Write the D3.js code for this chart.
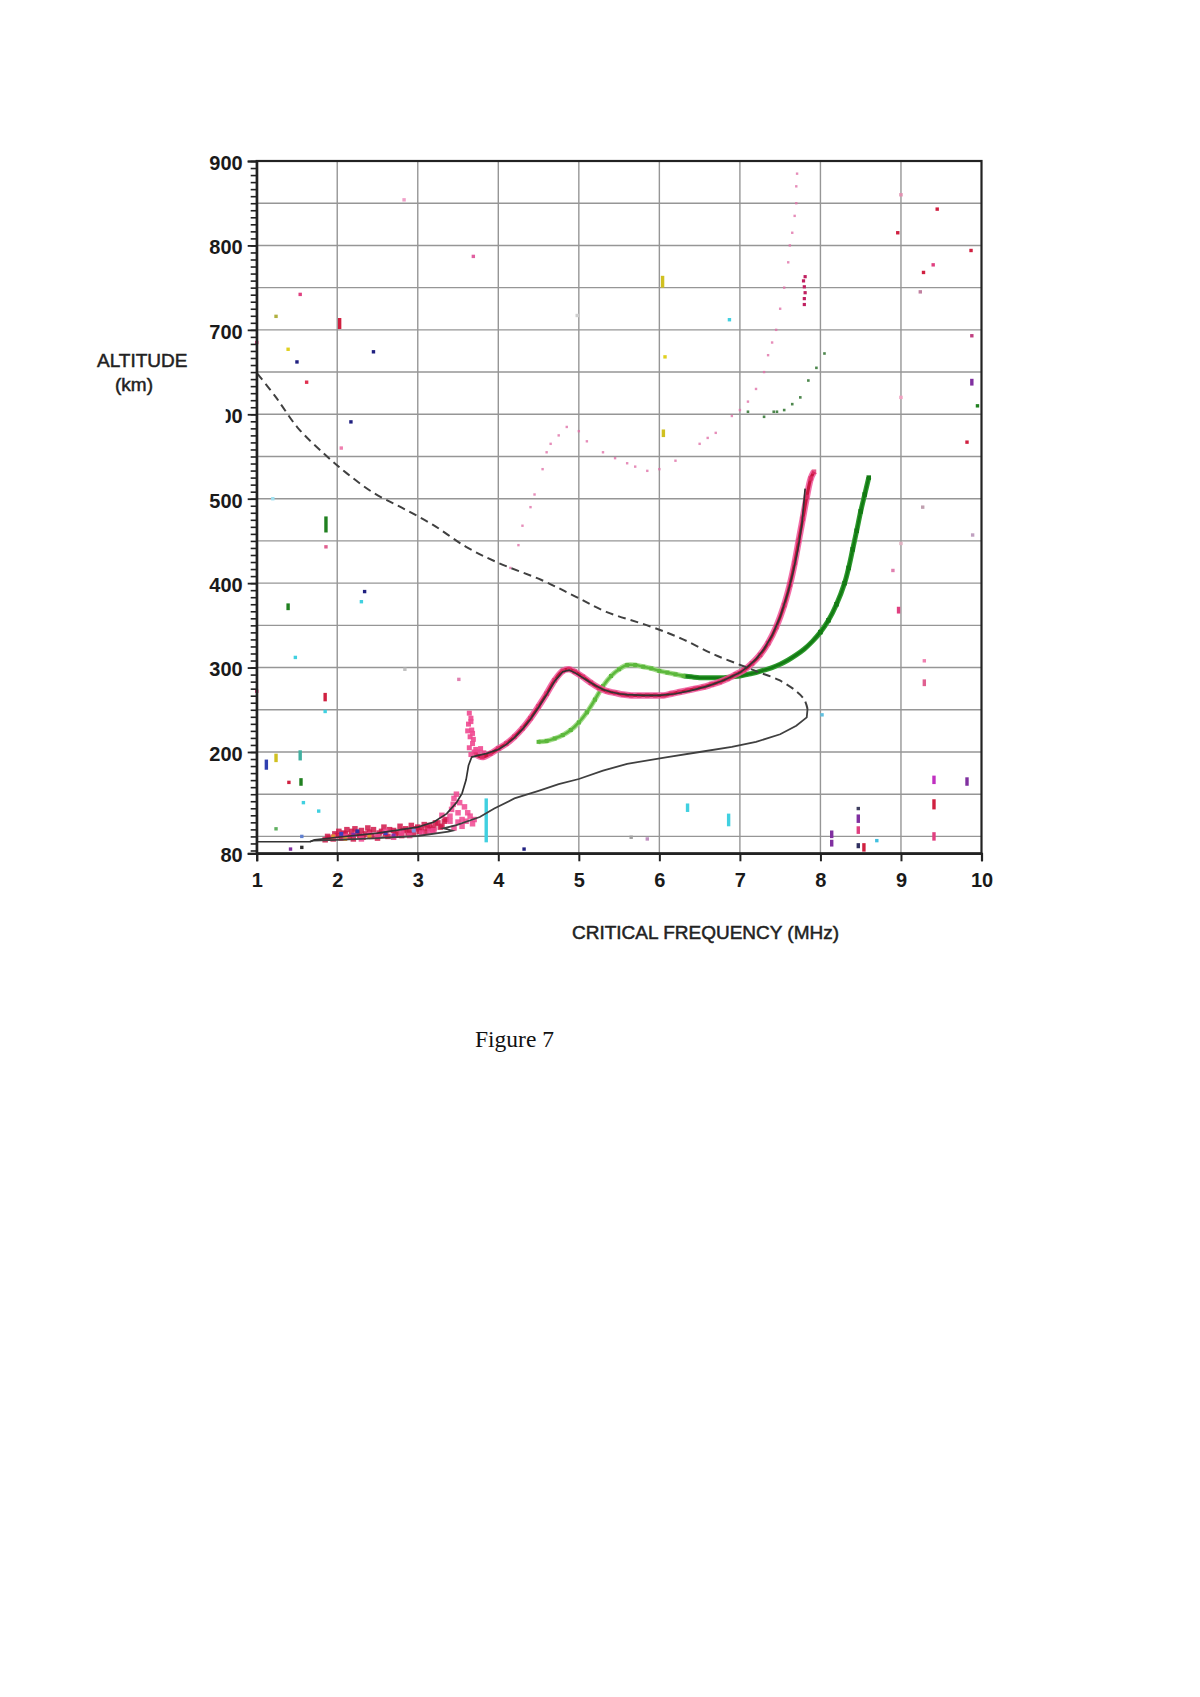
<!DOCTYPE html>
<html><head><meta charset="utf-8">
<script src="https://cdn.jsdelivr.net/npm/d3@7"></script>
<style>body{margin:0;background:#fff}</style>
</head><body>
<svg id="c" width="1200" height="1697" xmlns="http://www.w3.org/2000/svg"></svg>
<script>
// ---------- data ----------
const xTickValues = [1,2,3,4,5,6,7,8,9,10];
const yTickLabels = [80,200,300,400,500,600,700,800,900];
const yGridValues = [100,150,200,250,300,350,400,450,500,550,600,650,700,750,800,850];
const xGridValues = [2,3,4,5,6,7,8,9];

// dashed model profile (freq MHz, altitude km)
const dashedProfile = [[1.01,648],[1.24,620],[1.51,584],[1.85,552],[2.12,530],[2.45,507],[2.79,490],[3.19,469],[3.6,443],[4.0,424],[4.53,404],[4.94,385],[5.34,366],[5.88,349],[6.28,334],[6.69,315],[7.09,300],[7.22,295],[7.49,285],[7.7,272],[7.8,262],[7.84,251]];
// solid return branch of the model profile
const returnProfile = [[7.84,251],[7.83,241],[7.7,231],[7.5,221],[7.2,212],[6.9,206],[6.5,200],[6.1,194],[5.6,186],[5.3,178],[5.0,168],[4.75,162],[4.5,154],[4.2,145],[3.95,133],[3.77,123],[3.48,113.5],[3.32,109.6],[3.43,106.8],[3.38,105.6],[3.0,100.5],[2.5,98],[2.0,96],[1.7,95],[1.66,93.7]];
// solid fitted trace
const fitProfile = [[1.0,93.7],[1.66,93.7],[1.72,96],[2.0,99],[2.5,104],[3.0,111],[3.2,117],[3.36,127],[3.48,140],[3.55,151],[3.6,167],[3.63,184],[3.67,194],[3.75,196],[3.85,198],[4.0,203],[4.1,209],[4.2,217],[4.3,227],[4.4,239],[4.5,253],[4.6,268],[4.7,284],[4.8,295],[4.88,297],[4.95,294],[5.1,285],[5.2,279],[5.3,274],[5.4,271],[5.5,269],[5.6,268],[5.8,267],[6.0,267],[6.2,269],[6.4,273],[6.6,278],[6.8,285],[7.0,294],[7.1,301],[7.2,310],[7.3,322],[7.4,338],[7.5,360],[7.6,390],[7.66,413],[7.72,440],[7.77,470],[7.81,512]];

// red / pink echo trace
const redTrace = [[3.72,197],[3.8,194],[3.9,198],[4.0,204],[4.1,210],[4.2,218],[4.3,228],[4.4,240],[4.5,254],[4.6,269],[4.7,285],[4.8,296],[4.88,298],[4.95,295],[5.05,289],[5.15,282],[5.25,276],[5.35,272],[5.45,270],[5.55,268],[5.65,267],[5.75,267],[5.85,267],[5.95,267],[6.05,267],[6.15,269],[6.25,271],[6.35,273],[6.45,275],[6.55,277],[6.65,280],[6.75,283],[6.85,287],[6.95,292],[7.05,297],[7.15,305],[7.25,315],[7.35,329],[7.45,348],[7.55,374],[7.62,398],[7.68,424],[7.73,450],[7.78,476],[7.83,502],[7.88,524],[7.92,532]];
// green echo trace (light part, dark part)
const greenLight = [[4.5,212],[4.6,213],[4.7,216],[4.8,220],[4.9,226],[5.0,235],[5.1,247],[5.2,262],[5.3,278],[5.4,290],[5.5,298],[5.6,303],[5.7,303],[5.8,301],[5.9,299],[6.0,296],[6.1,294],[6.2,292],[6.3,290]];
const greenDark = [[6.3,290],[6.4,289],[6.5,288],[6.6,288],[6.7,288],[6.8,288],[6.9,289],[7.0,290],[7.1,292],[7.2,294],[7.3,297],[7.4,300],[7.5,304],[7.6,309],[7.7,315],[7.8,322],[7.9,331],[8.0,342],[8.1,356],[8.2,375],[8.3,400],[8.35,418],[8.4,440],[8.45,462],[8.5,485],[8.55,505],[8.6,525]];
// low-altitude cluster
const lowCluster = [[1.85,96],[1.88,100],[1.9,98],[1.95,97],[1.97,103],[2.0,101],[2.02,106],[2.05,98],[2.08,104],[2.1,103],[2.12,108],[2.15,100],[2.18,106],[2.2,97],[2.22,109],[2.25,104],[2.28,101],[2.3,107],[2.32,99],[2.35,103],[2.38,110],[2.4,105],[2.43,100],[2.45,108],[2.5,98],[2.52,104],[2.55,106],[2.58,111],[2.6,103],[2.63,100],[2.65,108],[2.7,107],[2.72,102],[2.75,104],[2.78,112],[2.8,101],[2.82,107],[2.85,109],[2.88,104],[2.9,106],[2.92,113],[2.95,103],[2.98,109],[3.0,111],[3.02,106],[3.05,108],[3.08,114],[3.1,105],[3.12,110],[3.15,113],[3.18,108],[3.2,110],[3.22,116],[3.25,116],[3.28,111],[3.3,112],[3.33,118],[3.35,120]];
const lowPink = [[1.95,99],[2.1,100],[2.3,97],[2.4,102],[2.5,100],[2.6,106],[2.7,99],[2.8,104],[2.9,101],[3.05,104],[3.15,106],[3.2,107],[3.3,125],[3.4,118],[3.42,132],[3.45,145],[3.48,150],[3.44,138],[3.5,128],[3.52,140],[3.55,120],[3.58,135],[3.6,118],[3.62,128],[3.65,124],[3.7,120],[3.45,110],[3.55,112],[3.5,117],[3.4,124],[3.68,115]];
const lowOther = [[1.95,100,"#e09030"],[2.05,103,"#4040c0"],[2.2,102,"#8030b0"],[2.4,100,"#e09030"],[2.6,104,"#4040c0"],[2.95,107,"#8090e0"],[2.1,97,"#e8a040"],[2.25,106,"#3030a0"],[2.7,101,"#8030b0"]];
const pinkColumn = [[3.64,246],[3.66,240],[3.63,233],[3.67,226],[3.65,218],[3.68,210],[3.64,205],[3.7,200],[3.66,197],[3.72,203],[3.69,215],[3.62,225],[3.75,200],[3.78,204],[3.82,199],[3.66,236],[3.68,222]];
// faint upper echo
const upperFaint = [[4.15,418],[4.25,445],[4.3,468],[4.4,490],[4.45,505],[4.55,535],[4.6,555],[4.65,565],[4.75,575],[4.85,585],[5.0,580],[5.1,568],[5.3,555],[5.45,548],[5.6,542],[5.7,538],[5.85,533],[6.0,535],[6.2,545],[6.5,565],[6.6,572],[6.7,578],[6.9,598],[7.0,605],[7.1,615],[7.2,630],[7.3,650],[7.35,670],[7.4,685],[7.45,700],[7.5,725],[7.55,750],[7.6,780],[7.62,800],[7.65,815],[7.68,835],[7.7,850],[7.7,870],[7.71,885]];
const upperCluster = [[7.8,730],[7.8,737],[7.81,744],[7.8,751],[7.79,758],[7.81,763]];
const upperGreen = [[7.1,603],[7.3,597],[7.42,603],[7.46,603],[7.55,605],[7.65,612],[7.75,620],[7.85,640],[7.95,655],[8.05,672]];
// scattered noise (freq, alt low, alt high, colour)
const noise = [[1.0,685,685,"#e04080"],[1.24,716,716,"#b0b040"],[1.54,742,742,"#e04080"],[1.39,677,677,"#e0d020"],[1.5,662,662,"#202080"],[1.62,638,638,"#e03050"],[2.03,703,712,"#d02040"],[2.45,674,674,"#202080"],[2.17,591,591,"#202080"],[2.05,560,560,"#f080b0"],[2.83,854,854,"#f0a0c8"],[3.69,787,787,"#e060a0"],[1.2,500,500,"#a0e0f0"],[1.86,462,477,"#208020"],[1.86,443,443,"#e06090"],[2.34,390,390,"#202080"],[2.3,378,378,"#40d0e0"],[1.39,370,374,"#208020"],[1.48,312,312,"#40d0e0"],[1.85,262,268,"#d02040"],[1.85,248,248,"#40d0e0"],[2.84,298,298,"#c0c0c0"],[3.51,286,286,"#e080b0"],[1.0,272,272,"#e04080"],[1.12,181,189,"#3040b0"],[1.24,190,196,"#d0c020"],[1.54,192,200,"#40b0a0"],[1.4,164,164,"#d02040"],[1.55,162,167,"#208020"],[1.58,140,140,"#40d0e0"],[1.77,130,130,"#40d0e0"],[1.24,109,109,"#60b060"],[1.56,100,100,"#6080d0"],[1.42,85,85,"#8030a0"],[1.56,87,87,"#303030"],[3.85,95,143,"#40d0e0"],[4.32,85,85,"#202080"],[5.65,99,99,"#a0a0a0"],[5.85,97,97,"#c090c0"],[6.04,752,762,"#d0c020"],[6.07,668,668,"#e0d020"],[6.05,575,580,"#d0c020"],[6.35,131,137,"#40d0e0"],[6.86,114,125,"#40d0e0"],[6.87,712,712,"#40d0e0"],[4.98,717,717,"#d0d0d0"],[8.02,244,244,"#60c0e0"],[8.14,100,105,"#8030a0"],[8.14,90,94,"#8030a0"],[8.47,118,124,"#8030a0"],[8.47,105,110,"#e04080"],[8.47,88,90,"#303060"],[8.54,84,90,"#d02040"],[8.7,95,95,"#40c0e0"],[8.96,815,815,"#d02040"],[9.0,860,860,"#e090b0"],[9.45,843,843,"#d02040"],[9.4,777,777,"#e04080"],[9.28,768,768,"#d02040"],[9.24,745,745,"#c080a0"],[9.87,794,794,"#d02040"],[9.88,693,693,"#c04080"],[9.88,636,640,"#8030a0"],[9.95,610,610,"#208020"],[9.82,567,567,"#d02040"],[9.0,620,620,"#f0a0c0"],[9.27,490,490,"#c0a0b0"],[9.0,447,447,"#e0b0c0"],[8.9,415,415,"#e080b0"],[8.97,366,370,"#e04080"],[9.29,308,308,"#f080b0"],[9.29,280,284,"#e06090"],[9.89,457,457,"#c0a0c0"],[9.41,164,170,"#c030c0"],[9.41,134,142,"#d02040"],[9.41,97,103,"#e04080"],[9.82,162,168,"#8030a0"],[8.47,133,133,"#404060"]];

// ---------- layout ----------
const svg = d3.select("#c");
const x = d3.scaleLinear().domain([1,10]).range([256.7,981.5]);
const y = d3.scaleLinear().domain([80,900]).range([853.3,161]);
const FONT = "'Liberation Sans', Arial, sans-serif";

// grid
svg.append("g").selectAll("line").data(yGridValues).join("line")
  .attr("x1",x(1)).attr("x2",x(10)).attr("y1",d=>y(d)).attr("y2",d=>y(d))
  .attr("stroke","#969696").attr("stroke-width",1.4);
svg.append("g").selectAll("line").data(xGridValues).join("line")
  .attr("y1",y(80)).attr("y2",y(900)).attr("x1",d=>x(d)).attr("x2",d=>x(d))
  .attr("stroke","#969696").attr("stroke-width",1.4);

// marks
const line = d3.line().x(d=>x(d[0])).y(d=>y(d[1])).curve(d3.curveCatmullRom.alpha(0.5));
const lineLin = d3.line().x(d=>x(d[0])).y(d=>y(d[1]));

function squares(data, color, size, op){
  svg.append("g").selectAll("rect").data(data).join("rect")
    .attr("x",d=>x(d[0])-size/2).attr("y",d=>y(d[1])-size/2)
    .attr("width",size).attr("height",size).attr("fill",color).attr("opacity",op||1);
}

// noise
svg.append("g").selectAll("rect").data(noise).join("rect")
  .attr("x",d=>x(d[0])-1.7).attr("y",d=>y(d[2])-1.7)
  .attr("width",3.4).attr("height",d=>Math.max(3.4,y(d[1])-y(d[2])+3.4))
  .attr("fill",d=>d[3]);

// faint upper echoes
squares(upperFaint,"#e070a8",2.4,0.8);
squares(upperCluster,"#c02060",3.2,1);
squares(upperGreen,"#3a7a3a",2.6,0.9);

// green trace
svg.append("path").datum(greenLight).attr("d",line).attr("fill","none")
  .attr("stroke","#9ad880").attr("stroke-width",5).attr("opacity",0.9);
svg.append("path").datum(greenLight).attr("d",line).attr("fill","none")
  .attr("stroke","#5cb83c").attr("stroke-width",2.5);
svg.append("path").datum(greenDark).attr("d",line).attr("fill","none")
  .attr("stroke","#2e9a2e").attr("stroke-width",5);
svg.append("path").datum(greenDark).attr("d",line).attr("fill","none")
  .attr("stroke","#137a13").attr("stroke-width",2.5);
squares(greenDark.slice(-10),"#137a13",4.5,1);
squares(greenLight,"#5cb83c",4,1);

// low cluster
squares(lowCluster,"#d0184a",5.5,0.85);
squares(lowPink,"#f04890",5.5,0.85);
svg.append("g").selectAll("rect").data(lowOther).join("rect")
  .attr("x",d=>x(d[0])-2).attr("y",d=>y(d[1])-2).attr("width",4).attr("height",4).attr("fill",d=>d[2]);
squares(pinkColumn,"#f04890",5,0.9);

// red trace
svg.append("path").datum(redTrace).attr("d",line).attr("fill","none")
  .attr("stroke","#f0559a").attr("stroke-width",6.5).attr("opacity",0.85);
svg.append("path").datum(redTrace).attr("d",line).attr("fill","none")
  .attr("stroke","#c8163f").attr("stroke-width",3.2);
squares(redTrace,"#e0306a",4.5,0.8);

// model lines
svg.append("path").datum(dashedProfile).attr("d",line).attr("fill","none")
  .attr("stroke","#404040").attr("stroke-width",2).attr("stroke-dasharray","8,5");
svg.append("path").datum(returnProfile).attr("d",lineLin).attr("fill","none")
  .attr("stroke","#404040").attr("stroke-width",1.8);
svg.append("path").datum(fitProfile).attr("d",lineLin).attr("fill","none")
  .attr("stroke","#333").attr("stroke-width",1.7);

// frame
svg.append("rect").attr("x",x(1)).attr("y",y(900)).attr("width",x(10)-x(1)).attr("height",y(80)-y(900))
  .attr("fill","none").attr("stroke","#222").attr("stroke-width",2.2);

// y axis ticks
const minorY = d3.range(900, 79, -100/12);
const yAxisMinor = d3.axisLeft(y).tickValues(minorY).tickSize(6).tickFormat("");
const gyMinor = svg.append("g").attr("transform",`translate(${x(1)},0)`).call(yAxisMinor);
gyMinor.select(".domain").remove();
gyMinor.selectAll("line").attr("stroke","#222").attr("stroke-width",1.6);
const yAxisMajor = d3.axisLeft(y).tickValues(yTickLabels).tickSize(9).tickPadding(14);
const gy = svg.append("g").attr("transform",`translate(${x(1)},0)`).call(yAxisMajor);
gy.select(".domain").attr("stroke","#222").attr("stroke-width",2.2);
gy.selectAll("line").attr("stroke","#222").attr("stroke-width",1.8);
gy.selectAll("text").attr("font-family",FONT).attr("font-size",20).attr("font-weight","bold")
  .attr("fill","#1a1a1a").attr("dy","8.3px").attr("x",-14);
// the "600" label is partly hidden in the original: clip in the tick's local coordinates
const t600 = gy.selectAll(".tick").filter(d=>d===600);
t600.append("clipPath").attr("id","clip600").append("rect")
  .attr("x",-31).attr("y",-20).attr("width",31).attr("height",40);
t600.select("text").attr("clip-path","url(#clip600)");

// x axis
const xAxis = d3.axisBottom(x).tickValues(xTickValues).tickSize(8).tickPadding(10);
const gx = svg.append("g").attr("transform",`translate(0,${y(80)})`).call(xAxis);
gx.select(".domain").attr("stroke","#222").attr("stroke-width",2.2);
gx.selectAll("line").attr("stroke","#222").attr("stroke-width",2);
gx.selectAll("text").attr("font-family",FONT).attr("font-size",20).attr("font-weight","bold")
  .attr("fill","#1a1a1a").attr("dy",0).attr("y",33.7);

// titles
const titleStyle = s => s.attr("font-family",FONT).attr("font-size",19).attr("fill","#222")
  .attr("stroke","#222").attr("stroke-width",0.5);
svg.append("text").attr("x",97).attr("y",367).text("ALTITUDE").call(titleStyle);
svg.append("text").attr("x",115).attr("y",391).text("(km)").call(titleStyle);
svg.append("text").attr("x",572).attr("y",939).text("CRITICAL FREQUENCY (MHz)").call(titleStyle);
svg.append("text").attr("x",475).attr("y",1047).text("Figure 7")
  .attr("font-family","'Liberation Serif','Times New Roman',serif").attr("font-size",23.5).attr("fill","#111");
</script>
</body></html>
